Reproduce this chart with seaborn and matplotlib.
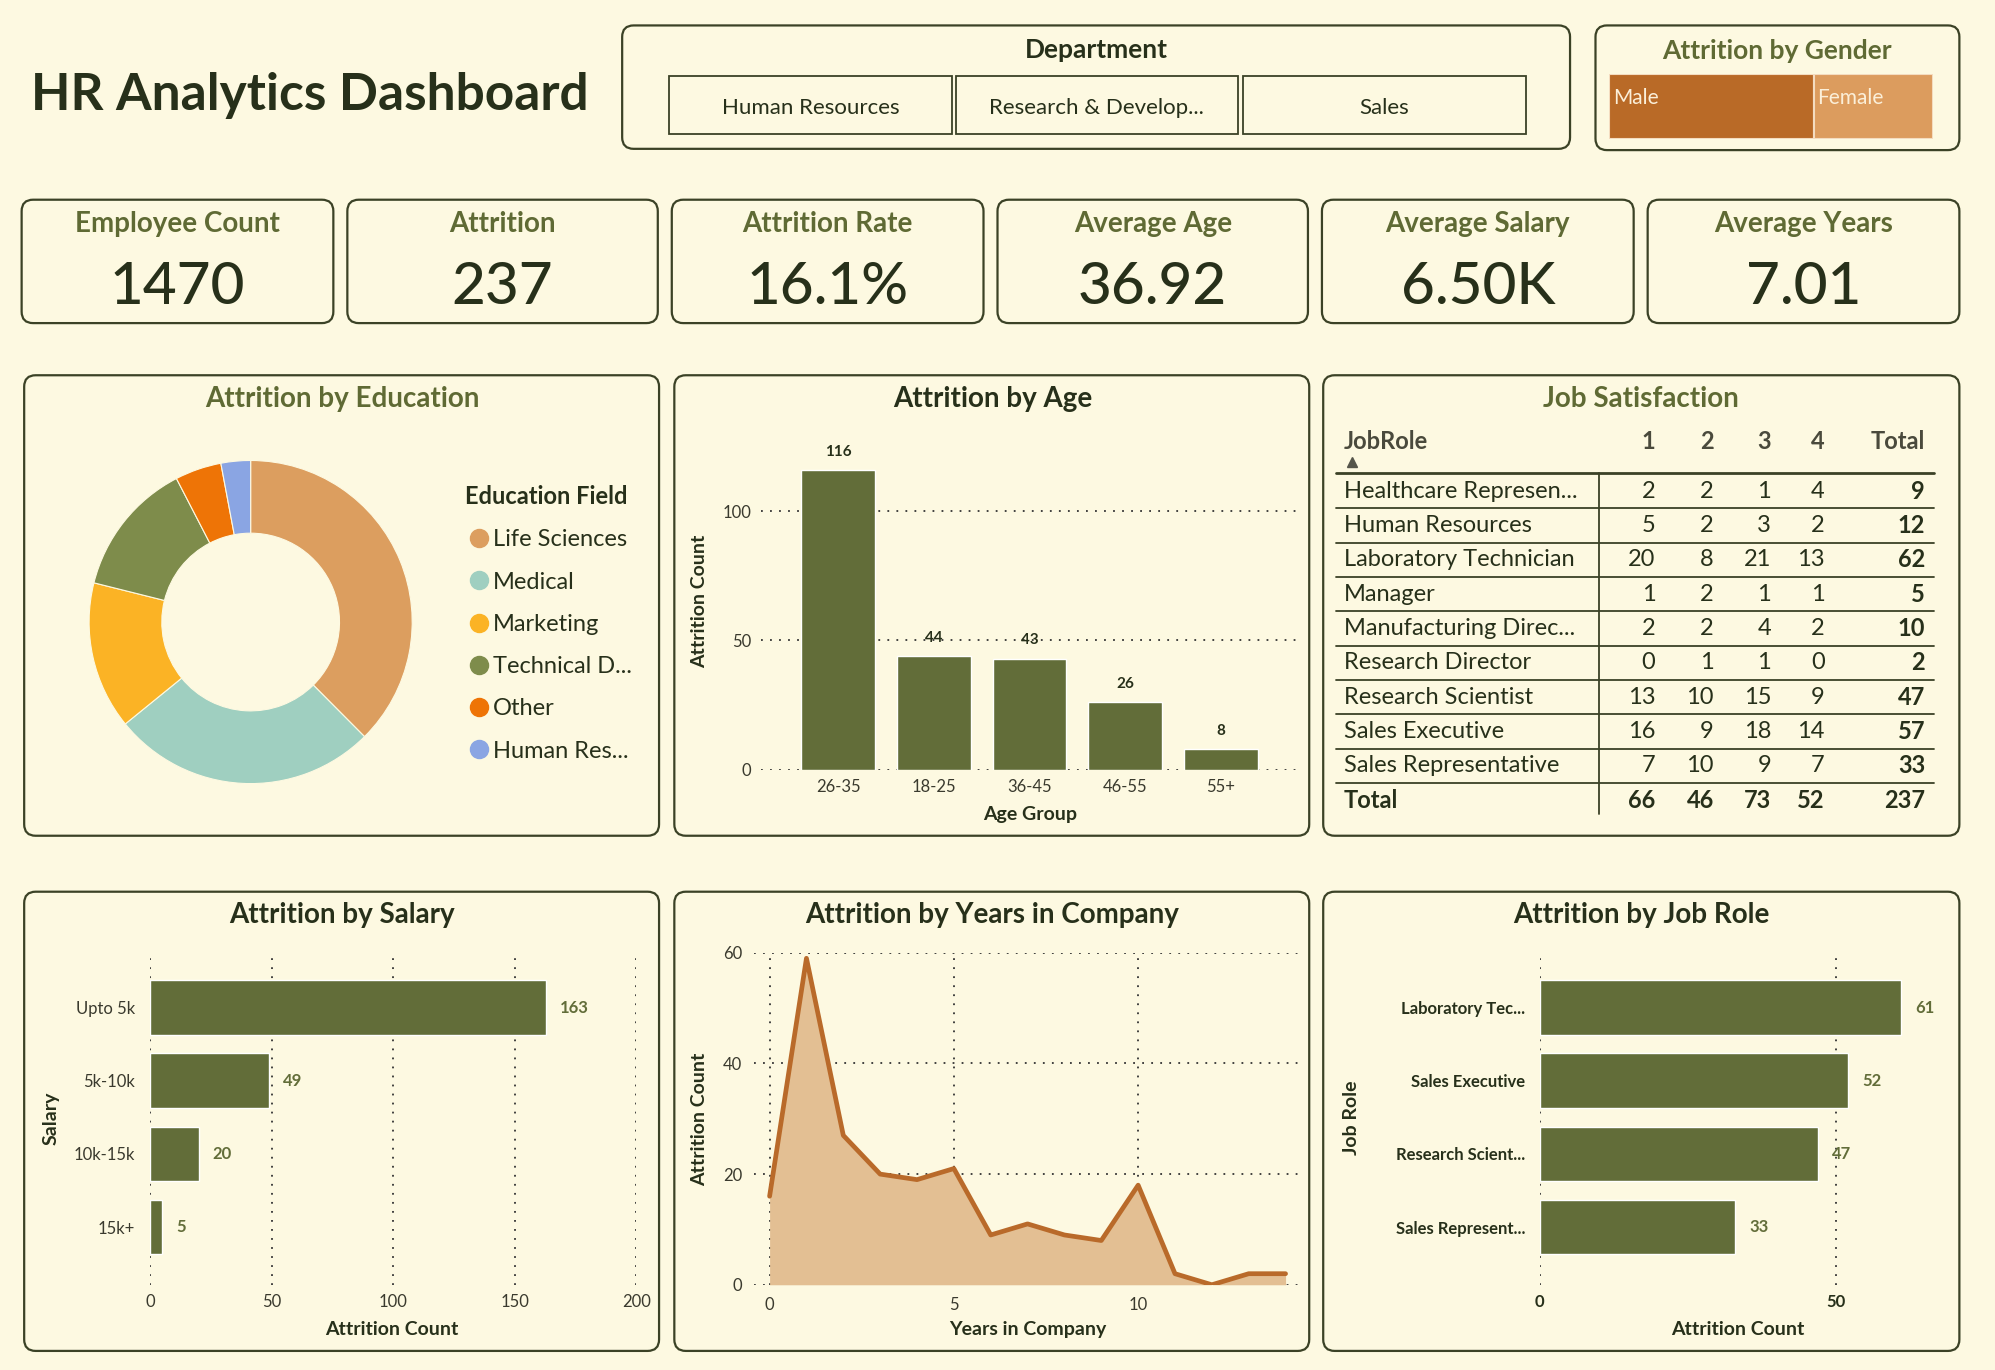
import numpy as np
import pandas as pd
import seaborn as sns
import matplotlib.pyplot as plt
from matplotlib.patches import FancyBboxPatch, Rectangle
from matplotlib.lines import Line2D

# ---- datos del dashboard ----
departments = ["Human Resources", "Research & Develop...", "Sales"]

genders = ["Male", "Female"]
gender_attrition = [150, 87]

kpi_titles = ["Employee Count", "Attrition", "Attrition Rate",
              "Average Age", "Average Salary", "Average Years"]
kpi_values = ["1470", "237", "16.1%", "36.92", "6.50K", "7.01"]

edu_fields = ["Life Sciences", "Medical", "Marketing", "Technical D...", "Other", "Human Res..."]
edu_attrition = [89, 63, 35, 32, 11, 7]

age_groups = ["26-35", "18-25", "36-45", "46-55", "55+"]
age_attrition = [116, 44, 43, 26, 8]

job_roles = ["Healthcare Represen...", "Human Resources", "Laboratory Technician", "Manager",
             "Manufacturing Direc...", "Research Director", "Research Scientist",
             "Sales Executive", "Sales Representative"]
sat_1 = [2, 5, 20, 1, 2, 0, 13, 16, 7]
sat_2 = [2, 2, 8, 2, 2, 1, 10, 9, 10]
sat_3 = [1, 3, 21, 1, 4, 1, 15, 18, 9]
sat_4 = [4, 2, 13, 1, 2, 0, 9, 14, 7]

salary_bands = ["Upto 5k", "5k-10k", "10k-15k", "15k+"]
salary_attrition = [163, 49, 20, 5]

years = list(range(15))
years_attrition = [16, 59, 27, 20, 19, 21, 9, 11, 9, 8, 18, 2, 0, 2, 2]

top_roles = ["Laboratory Tec...", "Sales Executive", "Research Scient...", "Sales Represent..."]
top_roles_attrition = [61, 52, 47, 33]

# ---- colores ----
BG = "#fdf9e1"
EDGE = "#3b4226"
OLIVE = "#626d39"
TITLE_OLIVE = "#5f6a34"
DARK = "#27301a"
TICK = "#3a3a2e"
EDU_COLORS = ["#dc9e5f", "#9fcfc0", "#fbb325", "#7e8c4b", "#ee7406", "#8aa5e3"]
MALE_C, FEMALE_C = "#b96a27", "#dc9c5e"
LINE_C, FILL_C = "#b96a2a", "#e3bf93"

sns.set_theme(style="white")
plt.rcParams["font.family"] = ["Lato", "DejaVu Sans"]
plt.rcParams["axes.facecolor"] = "none"

# layout en unidades de la referencia
W, H = 1568, 1077


def fig_rect(x0, y0, x1, y1):
    return [x0 / W, 1 - y1 / H, (x1 - x0) / W, (y1 - y0) / H]


fig = plt.figure(figsize=(19.95, 13.70), dpi=100, facecolor=BG)
bg = fig.add_axes([0, 0, 1, 1])
bg.set_xlim(0, W)
bg.set_ylim(H, 0)
bg.axis("off")
bg.set_zorder(0)


def panel(x0, y0, x1, y1, r=9):
    bg.add_patch(FancyBboxPatch((x0, y0), x1 - x0, y1 - y0,
                                boxstyle=f"round,pad=0,rounding_size={r}",
                                fc=BG, ec=EDGE, lw=1.6))


def txt(x, y, s, size, color=DARK, weight="normal", ha="center", va="center", **kw):
    bg.text(x, y, s, fontsize=size, color=color, fontweight=weight, ha=ha, va=va, **kw)


def grid_style(ax, axis):
    ax.grid(True, axis=axis, linestyle=(0, (1, 4)), color="#333333", lw=1.3)
    ax.set_axisbelow(True)
    for s in ax.spines.values():
        s.set_visible(False)
    ax.tick_params(length=0, colors=TICK, labelsize=12)
    ax.set_xlabel("")
    ax.set_ylabel("")


# ---- cabecera ----
txt(24, 75, "HR Analytics Dashboard", 37, weight="bold", ha="left")

panel(489, 20, 1234, 117)
txt(862, 39, "Department", 19, weight="bold")
btn_x = [526, 751, 977]
for bx, name in zip(btn_x, departments):
    bg.add_patch(Rectangle((bx, 60), 222, 45, fill=False, ec=EDGE, lw=1.3))
    txt(bx + 111, 85, name, 16)

panel(1254, 20, 1540, 118)
txt(1397, 40, "Attrition by Gender", 19, color=TITLE_OLIVE, weight="bold")
axg = fig.add_axes(fig_rect(1265, 58, 1519, 109))
left = 0
for g, v, c in zip(genders, gender_attrition, [MALE_C, FEMALE_C]):
    axg.barh(0, v, left=left, color=c, height=1, edgecolor="#f4dcc0", lw=1.5)
    axg.text(left + 2.5, 0.28, g, color="#fbefd9", fontsize=15, ha="left", va="top")
    left += v
axg.set_xlim(0, sum(gender_attrition))
axg.set_ylim(-0.5, 0.5)
axg.axis("off")

# ---- KPIs ----
kpi_x = [(17, 262), (273, 517), (528, 773), (784, 1028), (1039, 1284), (1295, 1540)]
for (x0, x1), t, v in zip(kpi_x, kpi_titles, kpi_values):
    panel(x0, 157, x1, 254)
    txt((x0 + x1) / 2, 176, t, 20, color=TITLE_OLIVE, weight="bold")
    txt((x0 + x1) / 2, 226, v, 42, weight="medium")

# ---- paneles ----
for y0, y1 in [(295, 657), (701, 1062)]:
    for x0, x1 in [(19, 518), (530, 1029), (1040, 1540)]:
        panel(x0, y0, x1, y1)

# Attrition by Education (donut)
txt(269, 314, "Attrition by Education", 20, color=TITLE_OLIVE, weight="bold")
axd = fig.add_axes(fig_rect(70, 362, 324, 616))
axd.pie(edu_attrition, colors=EDU_COLORS, startangle=90, counterclock=False,
        wedgeprops=dict(width=0.45, edgecolor=BG, lw=0.8))
axd.set_xlim(-1, 1)
axd.set_ylim(-1, 1)
handles = [Line2D([], [], marker="o", ls="", markersize=13, color=c) for c in EDU_COLORS]
leg = axd.legend(handles, edu_fields, title="Education Field", loc="upper left",
                 bbox_to_anchor=(358 / W, 1 - 374 / H), bbox_transform=fig.transFigure,
                 frameon=False, fontsize=17, title_fontproperties={"weight": "bold", "size": 17},
                 handletextpad=0.0, labelspacing=0.9, borderaxespad=0, handlelength=1.2)
leg._legend_box.align = "left"
for t in leg.get_texts():
    t.set_color(DARK)
leg.get_title().set_color(DARK)

# Attrition by Age
txt(780, 314, "Attrition by Age", 20, weight="bold")
axa = fig.add_axes(fig_rect(598, 341, 1022, 605))
age_df = pd.DataFrame({"age": age_groups, "count": age_attrition})
sns.barplot(data=age_df, x="age", y="count", color=OLIVE, saturation=1, width=0.77, ax=axa)
axa.set_xlim(-0.81, 4.83)
axa.set_ylim(0, 130)
axa.set_yticks([0, 50, 100])
grid_style(axa, "y")
axa.tick_params(axis="both", pad=7)
axa.bar_label(axa.containers[0], padding=8, fontsize=11, fontweight="bold", color=DARK)
txt(550, 473, "Attrition Count", 14, weight="bold", rotation=90)
txt(810, 640, "Age Group", 14, weight="bold")

# Job Satisfaction (tabla)
txt(1290, 314, "Job Satisfaction", 20, color=TITLE_OLIVE, weight="bold")
sat = pd.DataFrame({"JobRole": job_roles, "1": sat_1, "2": sat_2, "3": sat_3, "4": sat_4})
sat["Total"] = sat[["1", "2", "3", "4"]].sum(axis=1)
col_x = [1301, 1347, 1392, 1434, 1513]
cols = ["1", "2", "3", "4", "Total"]
HEAD = "#4a4a3c"
txt(1056, 347, "JobRole", 17, color=HEAD, weight="bold", ha="left")
bg.plot([1063], [363], marker="^", color="#55554a", markersize=7)
for cx, c in zip(col_x, cols):
    txt(cx, 347, c, 17, color=HEAD, weight="bold", ha="right")
bg.plot([1050, 1520], [372, 372], color=EDGE, lw=2)
row_y0 = 386
for i, row in sat.iterrows():
    y = row_y0 + 27 * i
    txt(1056, y, row["JobRole"], 17, ha="left")
    for cx, c in zip(col_x, cols):
        txt(cx, y, str(row[c]), 17, ha="right", weight="bold" if c == "Total" else "normal")
    bg.plot([1050, 1520], [y + 13.5, y + 13.5], color=EDGE, lw=1.3)
tot_y = row_y0 + 27 * len(sat)
txt(1056, tot_y, "Total", 17, weight="bold", ha="left")
for cx, c in zip(col_x, cols):
    txt(cx, tot_y, str(sat[c].sum()), 17, weight="bold", ha="right")
bg.plot([1257, 1257], [372, 640], color=EDGE, lw=1.3)

# Attrition by Salary
txt(269, 719, "Attrition by Salary", 20, weight="bold")
axs = fig.add_axes(fig_rect(118, 752, 500, 1010))
sal_df = pd.DataFrame({"band": salary_bands, "count": salary_attrition})
sns.barplot(data=sal_df, x="count", y="band", color=OLIVE, saturation=1, width=0.75, ax=axs)
axs.set_xlim(0, 200)
axs.set_ylim(3.79, -0.70)
axs.set_xticks([0, 50, 100, 150, 200])
grid_style(axs, "x")
axs.tick_params(axis="y", pad=11)
axs.tick_params(axis="x", pad=7)
axs.bar_label(axs.containers[0], padding=10, fontsize=12, fontweight="bold", color=OLIVE)
txt(40, 879, "Salary", 14, weight="bold", rotation=90)
txt(308, 1045, "Attrition Count", 14, weight="bold")

# Attrition by Years in Company
txt(780, 719, "Attrition by Years in Company", 20, weight="bold")
axy = fig.add_axes(fig_rect(593, 749, 1022, 1010))
yrs_df = pd.DataFrame({"years": years, "count": years_attrition})
axy.fill_between(yrs_df["years"], yrs_df["count"], color=FILL_C, lw=0)
sns.lineplot(data=yrs_df, x="years", y="count", color=LINE_C, linewidth=3.4, ax=axy)
axy.set_xlim(-0.41, 14.4)
axy.set_ylim(0, 60)
axy.set_xticks([0, 5, 10])
axy.set_yticks([0, 20, 40, 60])
grid_style(axy, "both")
axy.tick_params(axis="both", pad=9)
txt(550, 880, "Attrition Count", 14, weight="bold", rotation=90)
txt(808, 1045, "Years in Company", 14, weight="bold")

# Attrition by Job Role
txt(1290, 719, "Attrition by Job Role", 20, weight="bold")
axj = fig.add_axes(fig_rect(1210, 752, 1520, 1010))
role_df = pd.DataFrame({"role": top_roles, "count": top_roles_attrition})
sns.barplot(data=role_df, x="count", y="role", color=OLIVE, saturation=1, width=0.75, ax=axj)
axj.set_xlim(0, 66.5)
axj.set_ylim(3.79, -0.70)
axj.set_xticks([0, 50])
grid_style(axj, "x")
axj.tick_params(axis="y", pad=10)
axj.tick_params(axis="x", pad=7)
for lab in axj.get_yticklabels() + axj.get_xticklabels():
    lab.set_fontweight("bold")
    lab.set_color(DARK)
axj.bar_label(axj.containers[0], padding=10, fontsize=12, fontweight="bold", color=OLIVE)
txt(1062, 879, "Job Role", 14, weight="bold", rotation=90)
txt(1366, 1045, "Attrition Count", 14, weight="bold")

fig.savefig("out.png", dpi=100, facecolor=BG)
